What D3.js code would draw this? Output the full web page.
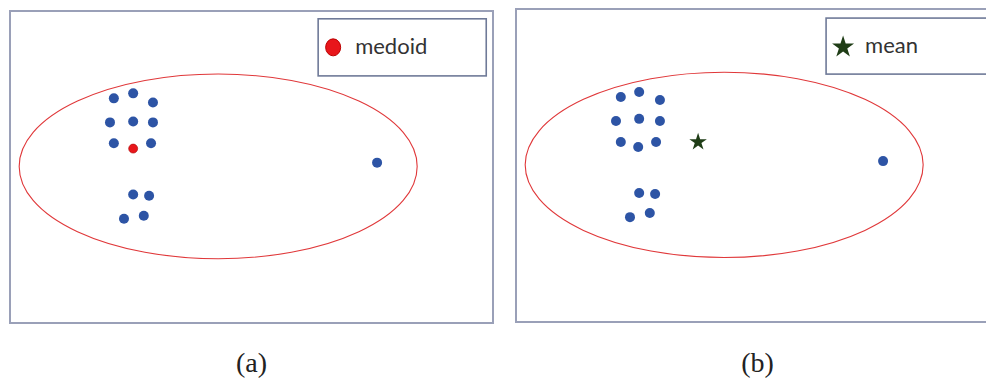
<!DOCTYPE html>
<html>
<head>
<meta charset="utf-8">
<script src="https://cdn.jsdelivr.net/npm/d3@7"></script>
<style>
  html, body { margin: 0; padding: 0; background: #fff; }
  svg { display: block; }
</style>
</head>
<body>
<svg id="chart" width="986" height="381"></svg>
<script>
// ---- data (units: 0–100 of each panel's frame) ----
const panelLabels = ["(a)", "(b)"];
const legendLabels = ["medoid", "mean"];

const pointsA_x = [21.5, 25.5, 29.6, 20.7, 25.5, 29.6, 21.5, 29.2, 25.5, 28.8, 23.6, 27.7, 76.0];
const pointsA_y = [28.0, 26.4, 29.3, 35.7, 35.4, 35.7, 42.4, 42.4, 58.8, 59.2, 66.6, 65.6, 48.6];
const medoid = [25.5, 44.1];

const pointsB_x = [21.7, 25.5, 29.8, 20.7, 25.5, 29.8, 21.7, 25.3, 29.0, 25.5, 28.8, 23.6, 27.7, 76.0];
const pointsB_y = [28.1, 26.5, 29.1, 35.8, 35.1, 35.8, 42.5, 44.1, 42.5, 58.8, 59.1, 66.5, 65.2, 48.6];
const mean = [37.7, 42.5];

// cluster ellipse: center x, center y, radius x, radius y
const ellipseSpec = [43.1, 49.8, 41.2, 29.6];

const svg = d3.select("#chart");

const panels = [
  { frame: [10, 11, 493, 323], xs: pointsA_x, ys: pointsA_y, special: medoid, kind: "medoid",
    legend: [63.8, 2.5, 98.6, 20.8], label: panelLabels[0], legendText: legendLabels[0] },
  { frame: [516, 9, 999, 322], xs: pointsB_x, ys: pointsB_y, special: mean, kind: "mean",
    legend: [64.2, 2.9, 110, 20.8], label: panelLabels[1], legendText: legendLabels[1] }
];

const blue = "#2d54a5";
const red = "#e8161b";
const green = "#1f3d16";

panels.forEach(p => {
  const [x0, y0, x1, y1] = p.frame;
  const x = d3.scaleLinear().domain([0, 100]).range([x0, x1]);
  const y = d3.scaleLinear().domain([0, 100]).range([y0, y1]);
  const sx = v => x(v) - x(0);
  const sy = v => y(v) - y(0);
  const g = svg.append("g");

  // frame
  g.append("rect")
    .attr("x", x(0)).attr("y", y(0))
    .attr("width", sx(100)).attr("height", sy(100))
    .attr("fill", "none").attr("stroke", "#9aa0b8").attr("stroke-width", 2);

  // legend box
  const [lx0, ly0, lx1, ly1] = p.legend;
  g.append("rect")
    .attr("x", x(lx0)).attr("y", y(ly0))
    .attr("width", x(lx1) - x(lx0)).attr("height", y(ly1) - y(ly0))
    .attr("fill", "#fff").attr("stroke", "#6f7a98").attr("stroke-width", 1.6);

  const ly = (y(ly0) + y(ly1)) / 2;
  if (p.kind === "medoid") {
    g.append("ellipse")
      .attr("cx", x(lx0) + 15).attr("cy", ly)
      .attr("rx", 7.5).attr("ry", 8.5)
      .attr("fill", red).attr("stroke", "#b00", "stroke-width", 0.5);
  } else {
    g.append("path")
      .attr("d", d3.symbol(d3.symbolStar, 150)())
      .attr("transform", `translate(${x(lx0) + 17},${ly + 1})`)
      .attr("fill", green);
  }
  g.append("text")
    .attr("x", x(lx0) + (p.kind === "medoid" ? 37 : 39))
    .attr("y", ly + 7)
    .attr("font-family", "Lato, 'Open Sans', sans-serif")
    .attr("font-size", 22)
    .attr("fill", "#333")
    .text(p.legendText);

  // cluster ellipse
  const [ecx, ecy, erx, ery] = ellipseSpec;
  g.append("ellipse")
    .attr("cx", x(ecx)).attr("cy", y(ecy))
    .attr("rx", sx(erx)).attr("ry", sy(ery))
    .attr("fill", "none").attr("stroke", "#e0383a").attr("stroke-width", 1.1);

  // points
  g.selectAll("circle.pt")
    .data(d3.zip(p.xs, p.ys))
    .join("circle")
    .attr("class", "pt")
    .attr("cx", d => x(d[0])).attr("cy", d => y(d[1]))
    .attr("r", 5)
    .attr("fill", blue);

  if (p.kind === "medoid") {
    g.append("circle")
      .attr("cx", x(p.special[0])).attr("cy", y(p.special[1]))
      .attr("r", 4.5)
      .attr("fill", red).attr("stroke", "#a00").attr("stroke-width", 0.6);
  } else {
    g.append("path")
      .attr("d", d3.symbol(d3.symbolStar, 95)())
      .attr("transform", `translate(${x(p.special[0])},${y(p.special[1])})`)
      .attr("fill", green);
  }

  // panel caption
  svg.append("text")
    .attr("x", (x0 + x1) / 2)
    .attr("y", 372)
    .attr("text-anchor", "middle")
    .attr("font-family", "'Liberation Serif', 'DejaVu Serif', serif")
    .attr("font-size", 28)
    .attr("fill", "#222")
    .text(p.label);
});
</script>
</body>
</html>
